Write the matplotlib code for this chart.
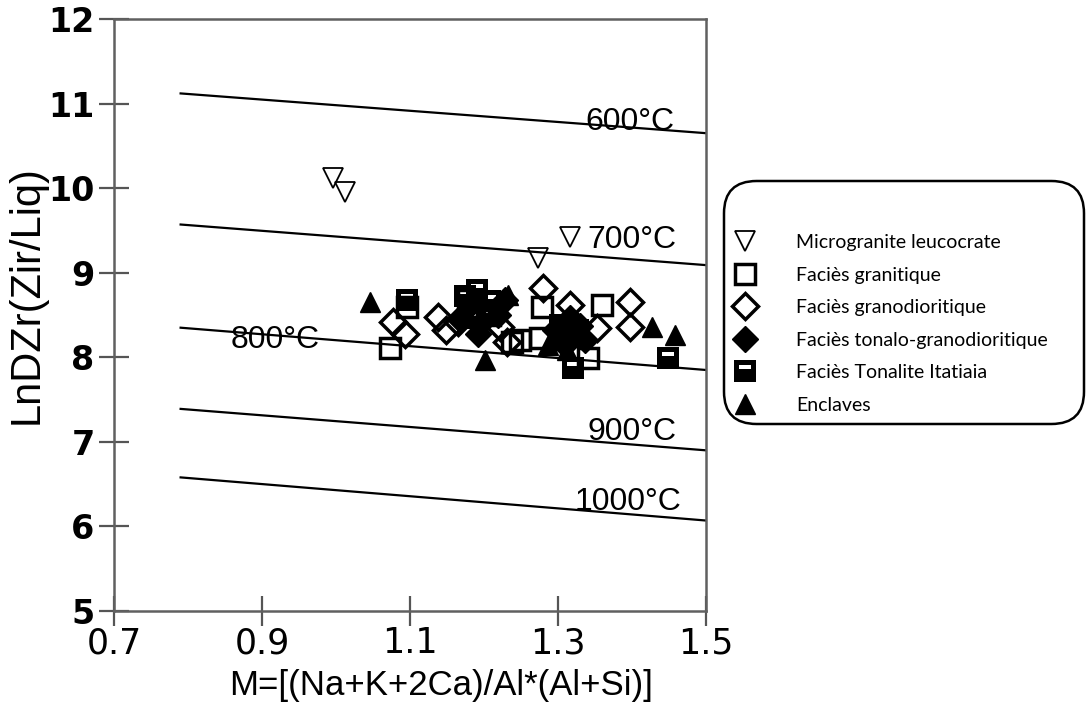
import matplotlib as mpl
mpl.use("Agg")
import matplotlib.pyplot as plt
from matplotlib.path import Path
from matplotlib.lines import Line2D
from matplotlib.patches import FancyBboxPatch

mpl.rcParams["font.family"] = ["Liberation Sans", "DejaVu Sans"]

# isotherms, end points
iso_labels = ["600°C", "700°C", "800°C", "900°C", "1000°C"]
iso_x = [0.79, 1.5]
iso_y_left = [11.12, 9.57, 8.35, 7.39, 6.58]
iso_y_right = [10.65, 9.09, 7.85, 6.90, 6.07]

# samples
micro_x = [0.996, 1.012, 1.273, 1.316]
micro_y = [10.12, 9.95, 9.17, 9.42]

gran_x = [1.073, 1.096, 1.249, 1.276, 1.278, 1.359, 1.341, 1.238, 1.178, 1.208]
gran_y = [8.11, 8.60, 8.20, 8.23, 8.59, 8.62, 7.99, 8.18, 8.68, 8.50]

grano_x = [1.077, 1.093, 1.138, 1.149, 1.165, 1.222, 1.231, 1.280, 1.316, 1.353, 1.397, 1.397]
grano_y = [8.42, 8.27, 8.48, 8.32, 8.42, 8.36, 8.18, 8.82, 8.62, 8.35, 8.65, 8.36]

tonalo_x = [1.181, 1.197, 1.228, 1.219, 1.296, 1.316, 1.330, 1.336, 1.309, 1.168, 1.192]
tonalo_y = [8.62, 8.42, 8.68, 8.50, 8.32, 8.46, 8.37, 8.20, 8.14, 8.46, 8.28]

itat_x = [1.096, 1.191, 1.181, 1.449, 1.320, 1.303, 1.327, 1.174, 1.208]
itat_y = [8.68, 8.79, 8.46, 7.99, 7.87, 8.38, 8.32, 8.72, 8.66]

encl_x = [1.046, 1.201, 1.427, 1.458, 1.297, 1.312, 1.232, 1.286]
encl_y = [8.65, 7.97, 8.36, 8.26, 8.20, 8.09, 8.74, 8.14]

# black square with a white bar (Tonalite Itatiaia)
sq_verts = [(-1, -1), (1, -1), (1, 1), (-1, 1), (-1, -1),
            (-0.6, 0.15), (-0.6, 0.55), (0.6, 0.55), (0.6, 0.15), (-0.6, 0.15)]
sq_codes = [Path.MOVETO, Path.LINETO, Path.LINETO, Path.LINETO, Path.CLOSEPOLY] * 2
itat_marker = Path(sq_verts, sq_codes)

fig = plt.figure(figsize=(10.88, 7.17), dpi=100)
ax = fig.add_axes([0.1048, 0.1478, 0.5441, 0.8257])

for yl, yr in zip(iso_y_left, iso_y_right):
    ax.plot(iso_x, [yl, yr], color="black", lw=1.6, zorder=1)

label_pos = [(1.397, 10.78), (1.400, 9.39), (0.918, 8.20), (1.400, 7.12), (1.395, 6.29)]
for lab, (tx, ty) in zip(iso_labels, label_pos):
    ax.text(tx, ty, lab, fontsize=23, ha="center", va="center")

styles = [
    dict(marker="v", ms=15, mfc="none", mec="black", mew=1.3),
    dict(marker="s", ms=15, mfc="none", mec="black", mew=2.5),
    dict(marker="D", ms=13.5, mfc="none", mec="black", mew=2.5),
    dict(marker="D", ms=13.5, mfc="black", mec="black", mew=1.0),
    dict(marker=itat_marker, ms=15.5, mfc="black", mec="none", mew=0),
    dict(marker="^", ms=15, mfc="black", mec="black", mew=1.0),
]
series = [(micro_x, micro_y), (gran_x, gran_y), (grano_x, grano_y),
          (tonalo_x, tonalo_y), (itat_x, itat_y), (encl_x, encl_y)]
names = ["Microgranite leucocrate", "Faciès granitique", "Faciès granodioritique",
         "Faciès tonalo-granodioritique", "Faciès Tonalite Itatiaia", "Enclaves"]

for (sx, sy), st in zip(series, styles):
    ax.plot(sx, sy, linestyle="none", zorder=3, **st)

ax.set_xlim(0.7, 1.5)
ax.set_ylim(5, 12)
ax.set_xticks([0.7, 0.9, 1.1, 1.3, 1.5])
ax.set_xticklabels(["0.7", "0.9", "1.1", "1.3", "1.5"])
ax.set_yticks(range(5, 13))
ax.tick_params(axis="both", direction="inout", length=22, width=1.6, color="#555555")
ax.tick_params(axis="x", pad=0)
ax.tick_params(axis="y", pad=3)
for lab in ax.get_yticklabels():
    lab.set_fontfamily("DejaVu Sans")
    lab.set_fontweight("bold")
    lab.set_fontsize(24)
for lab in ax.get_xticklabels():
    lab.set_fontfamily("DejaVu Sans")
    lab.set_fontsize(25)
for sp in ax.spines.values():
    sp.set_color("#606060")
    sp.set_linewidth(1.8)

ax.set_xlabel("M=[(Na+K+2Ca)/Al*(Al+Si)]", fontsize=25, va="center")
ax.xaxis.set_label_coords(0.552, -0.125)
ax.set_ylabel("LnDZr(Zir/Liq)", fontsize=30, va="center")
ax.yaxis.set_label_coords(-0.147, 0.534)

# legend box drawn separately (rounded, extra room on top)
box = FancyBboxPatch((724 / 1088, 1 - 424 / 717), 360 / 1088, 243 / 717,
                     boxstyle="round,pad=0,rounding_size=0.03",
                     transform=fig.transFigure, facecolor="none",
                     edgecolor="black", linewidth=1.8, mutation_aspect=1.5)
fig.patches.append(box)

handles = [Line2D([], [], linestyle="none", **st) for st in styles]
leg = ax.legend(handles, names, loc="upper left", bbox_to_anchor=(730 / 1088, 1 - 234 / 717),
                bbox_transform=fig.transFigure, borderaxespad=0, borderpad=0,
                prop={"family": ["Lato", "DejaVu Sans"], "size": 14},
                labelspacing=0.8, handletextpad=1.9, handlelength=1.5,
                frameon=False)

fig.savefig("out.png", dpi=100)
plt.close()
